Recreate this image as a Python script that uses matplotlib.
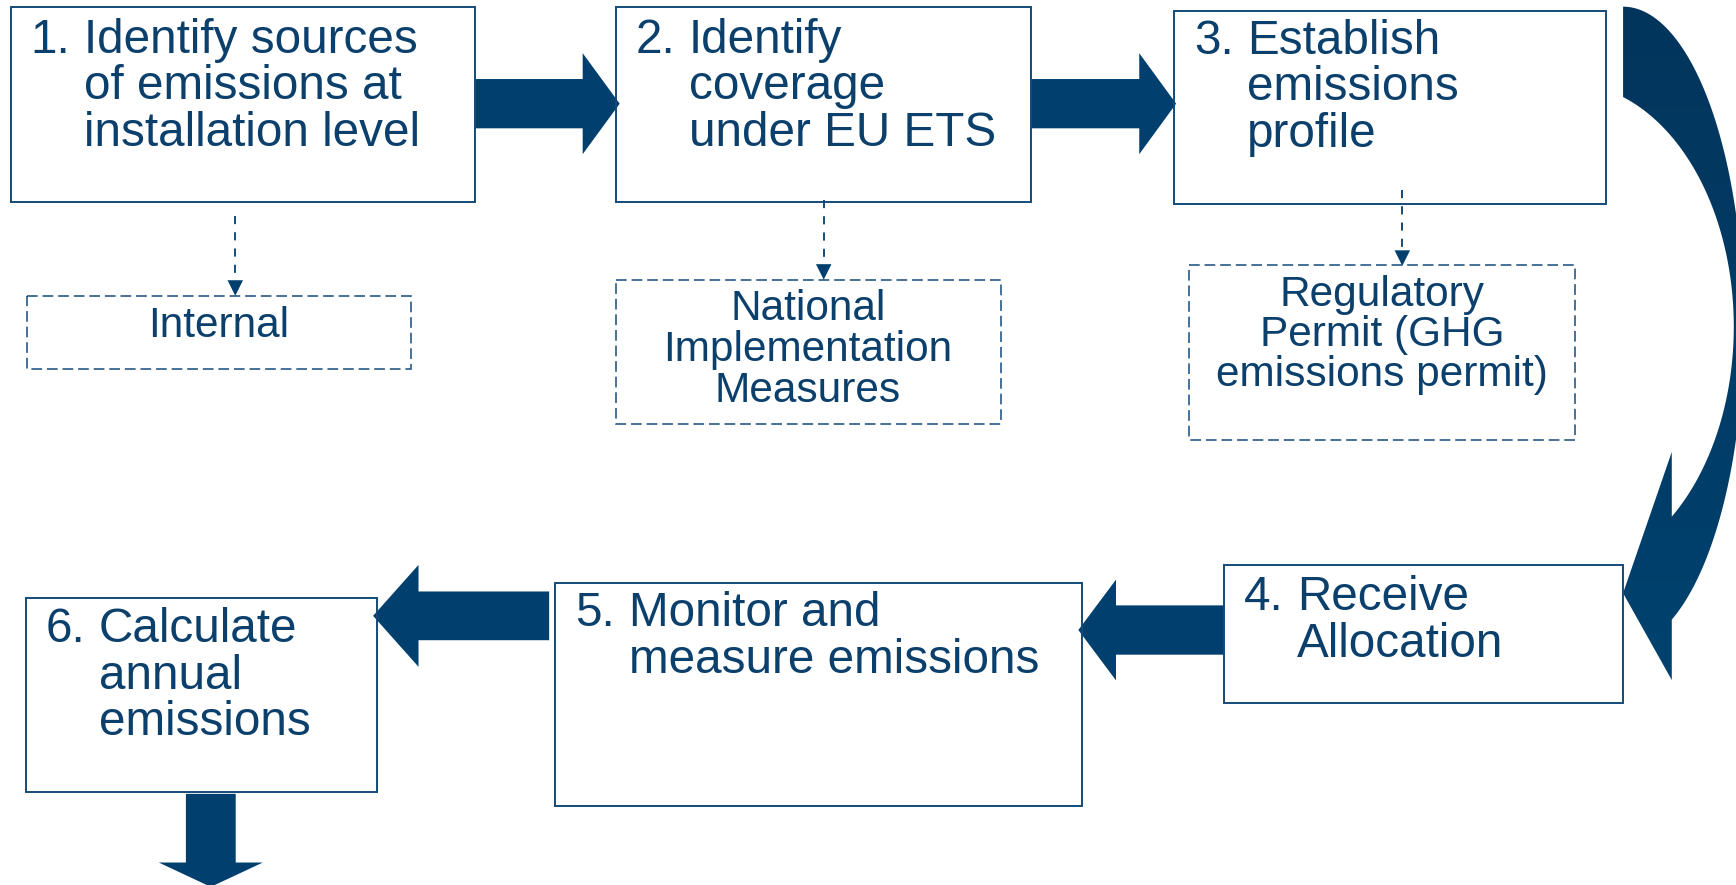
import numpy as np
import matplotlib
matplotlib.use("Agg")
import matplotlib.pyplot as plt
from matplotlib.patches import Rectangle, Polygon, FancyArrow
from matplotlib.colors import LinearSegmentedColormap

# step labels: number + wrapped lines
step_numbers = ["1.", "2.", "3.", "4.", "5.", "6."]
step_lines = [
    ["Identify sources", "of emissions at", "installation level"],
    ["Identify", "coverage", "under EU ETS"],
    ["Establish", "emissions", "profile"],
    ["Receive", "Allocation"],
    ["Monitor and", "measure emissions"],
    ["Calculate", "annual", "emissions"],
]
# dashed boxes under steps 1-3
note_lines = [
    ["Internal"],
    ["National", "Implementation", "Measures"],
    ["Regulatory", "Permit (GHG", "emissions permit)"],
]

NAVY = "#003f6e"
TEXT = "#0b3f6c"
EDGE = "#134a7a"
FONT = "Liberation Sans"

# layout, in reference pixel units (1568 x 799 canvas, y downwards)
step_boxes = [  # left, top, right, bottom, first baseline
    (9.7, 6.6, 428.7, 182.8, 47.6),
    (556, 6.6, 931, 182.8, 47.6),
    (1060.6, 9.9, 1450.8, 184.3, 48.5),
    (1105.7, 510, 1466, 635, 551),
    (501.7, 526, 977.5, 728, 565.5),
    (23.4, 539.6, 340.8, 715, 579.6),
]
note_boxes = [  # left, top, right, bottom, first baseline, line step
    (24.2, 267, 371, 332.7, 304, 36.9),
    (556, 253, 903.7, 382.4, 289, 36.9),
    (1074, 239, 1422.8, 397, 276, 36.4),
]
note_arrows = [(212.5, 195, 267), (744, 181, 252.5), (1266.6, 171.5, 240)]

fig = plt.figure(figsize=(17.36, 8.85), dpi=100)
ax = fig.add_axes([0, 0, 1, 1])

# solid step boxes
for (l, t, r, b, base), num, lines in zip(step_boxes, step_numbers, step_lines):
    ax.add_patch(Rectangle((l, t), r - l, b - t, fill=False, ec=EDGE, lw=1.4, zorder=3))
    ax.text(l + 18, base, num, fontsize=34.3, family=FONT, color=TEXT, va="baseline")
    for i, s in enumerate(lines):
        ax.text(l + 66, base + i * 42, s, fontsize=34.3, family=FONT, color=TEXT, va="baseline")

# dashed note boxes
for (l, t, r, b, base, step), lines in zip(note_boxes, note_lines):
    ax.add_patch(Rectangle((l, t), r - l, b - t, fill=False, ec=EDGE, lw=1.1,
                           ls=(0, (7, 3.2)), zorder=3))
    for i, s in enumerate(lines):
        ax.text((l + r) / 2, base + i * step, s, fontsize=30.5, family=FONT,
                color=TEXT, va="baseline", ha="center")

# dashed connectors
for x, y0, y1 in note_arrows:
    ax.plot([x, x], [y0, y1 - 13], color=NAVY, lw=1.3, ls=(0, (4.5, 4.5)))
    ax.add_patch(Polygon([(x - 7, y1 - 14), (x + 7, y1 - 14), (x, y1)], closed=True,
                         fc=NAVY, ec="none"))

# block arrows: x, y, dx, dy, shaft, head width, head length
block_arrows = [
    (428.7, 93.6, 131.0, 0, 44.5, 91.2, 33.4),
    (931.0, 93.6, 131.3, 0, 44.5, 91.2, 33.3),
    (1105.7, 568.8, -131.7, 0, 44.5, 91.0, 34.0),
    (496.0, 556.0, -159.0, 0, 44.0, 92.0, 41.0),
    (190.4, 716.7, 0, 84.0, 45.0, 94.0, 22.0),
]
for x, y, dx, dy, w, hw, hl in block_arrows:
    ax.add_patch(FancyArrow(x, y, dx, dy, width=w, head_width=hw, head_length=hl,
                            length_includes_head=True, fc=NAVY, ec="none", zorder=2))

# curved arrow from step 3 down to step 4 (elliptic band + head)
ocx, ocy, oa, ob = 1466, 295, 109, 289
icx, icy, ia, ib = 1416, 295, 150, 220
base_x = 1510
t_out = np.linspace(-np.pi / 2, np.arccos((base_x - ocx) / oa), 120)
outer = np.column_stack([ocx + oa * np.cos(t_out), ocy + ob * np.sin(t_out)])
t_in = np.linspace(np.arccos((base_x - icx) / ia), -np.arccos((1466 - icx) / ia), 120)
inner = np.column_stack([icx + ia * np.cos(t_in), icy + ib * np.sin(t_in)])
head = np.array([[base_x, 614], [1466, 535.5], [base_x, 408]])
pts = np.vstack([outer, head, inner, [[1466, inner[-1, 1]]]])
band = Polygon(pts, closed=True, fc="none", ec="none")
ax.add_patch(band)
cmap = LinearSegmentedColormap.from_list("band", ["#03355c", "#00426f"])
grad = np.linspace(0, 1, 256).reshape(-1, 1)
img = ax.imshow(grad, cmap=cmap, extent=(1455, 1580, 620, 0), aspect="auto", zorder=2)
img.set_clip_path(band)

ax.set_xlim(0, 1568)
ax.set_ylim(799, 0)
ax.axis("off")
fig.savefig("out.png", dpi=100, facecolor="white")
